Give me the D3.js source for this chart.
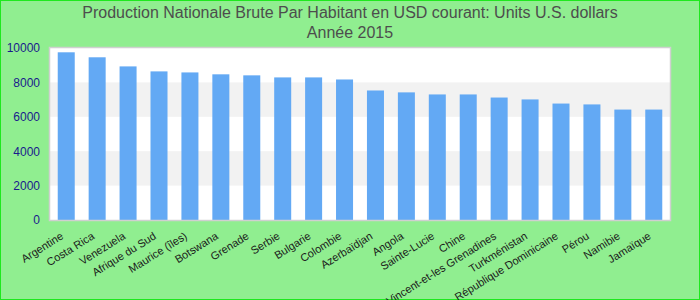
<!DOCTYPE html>
<html>
<head>
<meta charset="utf-8">
<script src="https://cdn.jsdelivr.net/npm/d3@7"></script>
<style>
  html, body { margin: 0; padding: 0; }
  body { width: 700px; height: 300px; overflow: hidden; }
  svg { display: block; font-family: "Liberation Sans", Arial, sans-serif; }
  .title { fill: #4d4d4d; font-size: 16px; }
  .y-tick { fill: #1a1a8c; font-size: 12px; }
  .x-tick { fill: #1a1a1a; font-size: 11px; }
</style>
</head>
<body>
<svg id="chart" width="700" height="300"></svg>
<script>
// ── GNI PER CAPITA BAR CHART ─────────────────────────────────────────────

const countries = [
  "Argentine", "Costa Rica", "Venezuela", "Afrique du Sud", "Maurice (îles)",
  "Botswana", "Grenade", "Serbie", "Bulgarie", "Colombie",
  "Azerbaïdjan", "Angola", "Sainte-Lucie", "Chine",
  "Saint-Vincent-et-les Grenadines", "Turkménistan", "République Dominicaine",
  "Pérou", "Namibie", "Jamaïque"
];
const values = [
  9750, 9460, 8930, 8640, 8580, 8470, 8410, 8290, 8290, 8170,
  7530, 7420, 7300, 7300, 7120, 7010, 6770, 6720, 6420, 6420
];
const yTicks = [0, 2000, 4000, 6000, 8000, 10000];
const titleLines = [
  "Production Nationale Brute Par Habitant en USD courant: Units U.S. dollars",
  "Année 2015"
];

const svg = d3.select("#chart");
const width = 700, height = 300;
const margin = { top: 48, right: 30, bottom: 80, left: 50 };
const innerWidth = width - margin.left - margin.right;
const innerHeight = height - margin.top - margin.bottom;

// background + outer border
svg.append("rect")
  .attr("x", 0.5).attr("y", 0.5)
  .attr("width", width - 1).attr("height", height - 1)
  .attr("fill", "#90ee90")
  .attr("stroke", "#1ee81e")
  .attr("stroke-width", 1);

// title
svg.append("g")
  .selectAll("text")
  .data(titleLines)
  .join("text")
  .attr("class", "title")
  .attr("x", width / 2)
  .attr("y", (d, i) => 18 + i * 20)
  .attr("text-anchor", "middle")
  .text((d) => d);

const xScale = d3.scaleBand().domain(countries).range([0, innerWidth]).paddingInner(0.45).paddingOuter(0.25);
const yScale = d3.scaleLinear().domain([0, 10000]).range([innerHeight, 0]);

const group = svg.append("g").attr("transform", `translate(${margin.left},${margin.top})`);

// plot background and alternating bands
group.append("rect")
  .attr("width", innerWidth).attr("height", innerHeight)
  .attr("fill", "#ffffff");
group.append("g")
  .selectAll("rect")
  .data(d3.pairs(yTicks).filter((d, i) => i % 2 === 1))
  .join("rect")
  .attr("x", 0)
  .attr("width", innerWidth)
  .attr("y", (d) => yScale(d[1]))
  .attr("height", (d) => yScale(d[0]) - yScale(d[1]))
  .attr("fill", "#f2f2f2");

// bars
group.append("g")
  .selectAll("rect")
  .data(countries)
  .join("rect")
  .attr("x", (d) => xScale(d))
  .attr("width", xScale.bandwidth())
  .attr("y", (d, i) => yScale(values[i]))
  .attr("height", (d, i) => innerHeight - yScale(values[i]))
  .attr("fill", "#63a9f4");

// plot border
group.append("rect")
  .attr("x", -0.5).attr("y", -0.5)
  .attr("width", innerWidth + 1).attr("height", innerHeight + 1)
  .attr("fill", "none")
  .attr("stroke", "#d0d0d0")
  .attr("stroke-width", 1.5);

// y axis
const yAxis = group.append("g")
  .call(d3.axisLeft(yScale).tickValues(yTicks).tickFormat(d3.format("d")).tickSize(0).tickPadding(10));
yAxis.select(".domain").remove();
yAxis.selectAll("text").attr("class", "y-tick").attr("font-family", null).attr("font-size", null);

// x axis, rotated labels
const xAxis = group.append("g")
  .attr("transform", `translate(0,${innerHeight})`)
  .call(d3.axisBottom(xScale).tickSize(0).tickPadding(0));
xAxis.select(".domain").remove();
xAxis.selectAll("text")
  .attr("class", "x-tick")
  .attr("font-family", null).attr("font-size", null)
  .attr("text-anchor", "end")
  .attr("dy", null)
  .attr("y", 0)
  .attr("transform", "translate(-2,18) rotate(-32)");
</script>
</body>
</html>
